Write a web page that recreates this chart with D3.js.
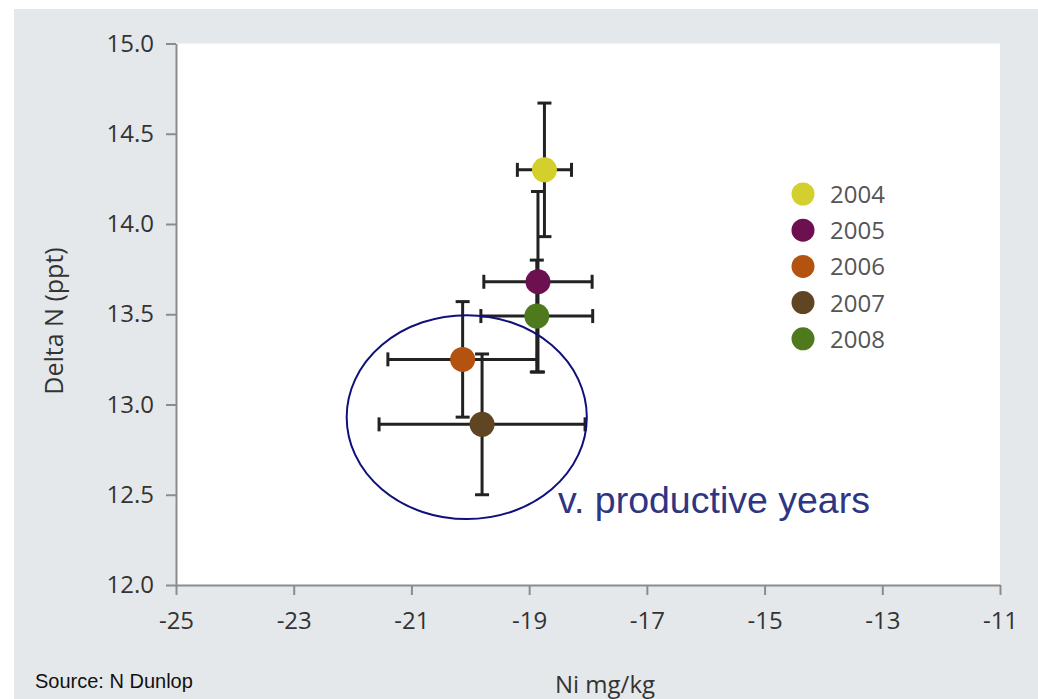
<!DOCTYPE html>
<html lang="en">
<head>
  <meta charset="UTF-8">
  <title>Delta N vs Ni by year</title>
  <script src="https://d3js.org/d3.v7.min.js"></script>
  <style>
    body { margin: 0; background: #fff; }
    .tick text { font-family: "Open Sans", sans-serif; fill: #333; }
    .domain, .tick line { stroke: #8c8c8c; stroke-width: 2px; }
  </style>
</head>
<body>
  <div id="chart"></div>
  <script>
    // values
    const years = ["2004", "2005", "2006", "2007", "2008"];
    const niMean = [-18.74, -18.85, -20.13, -19.80, -18.87];
    const niErr = [0.46, 0.92, 1.27, 1.75, 0.95];
    const deltaN = [14.30, 13.68, 13.25, 12.89, 13.49];
    const deltaNErr = [0.37, 0.50, 0.32, 0.39, 0.31];
    const colors = ["#d3cf2c", "#6c1050", "#b4520f", "#5f4521", "#4e7a1d"];
    const xTicks = [-25, -23, -21, -19, -17, -15, -13, -11];
    const yTicks = [12.0, 12.5, 13.0, 13.5, 14.0, 14.5, 15.0];
    // annotation ellipse (data units)
    const ring = { cx: -20.06, cy: 12.93, rx: 2.04, ry: 0.565 };

    const W = 1038, H = 699;
    const margin = { top: 43.5, right: 38, bottom: 114, left: 176 };

    const svg = d3.select("#chart").append("svg")
      .attr("width", W).attr("height", H);

    svg.append("rect").attr("x", 14).attr("y", 9)
      .attr("width", W - 14).attr("height", H - 9)
      .attr("fill", "#e5e8ea");

    const x = d3.scaleLinear().domain([-25, -11]).range([margin.left, W - margin.right]);
    const y = d3.scaleLinear().domain([12, 15]).range([H - margin.bottom, margin.top]);

    svg.append("rect")
      .attr("x", x(-25)).attr("y", y(15))
      .attr("width", x(-11) - x(-25)).attr("height", y(12) - y(15))
      .attr("fill", "#fff");

    // axes
    const gx = svg.append("g")
      .attr("transform", `translate(0,${y(12)})`)
      .call(d3.axisBottom(x).tickValues(xTicks).tickSize(10).tickSizeOuter(0).tickPadding(17).tickFormat(d => String(d)));
    gx.selectAll("text").attr("font-size", 24);

    const gy = svg.append("g")
      .attr("transform", `translate(${x(-25)},0)`)
      .call(d3.axisLeft(y).tickValues(yTicks).tickSize(10).tickSizeOuter(0).tickPadding(12).tickFormat(d3.format(".1f")));
    gy.selectAll("text").attr("font-size", 24);

    // axis titles
    svg.append("text")
      .attr("x", 605).attr("y", 693)
      .attr("text-anchor", "middle")
      .attr("font-family", "Open Sans, sans-serif")
      .attr("font-size", 24).attr("fill", "#333")
      .text("Ni mg/kg");

    svg.append("text")
      .attr("transform", "translate(63,321) rotate(-90)")
      .attr("text-anchor", "middle")
      .attr("font-family", "Open Sans, sans-serif")
      .attr("font-size", 25).attr("fill", "#333")
      .text("Delta N (ppt)");

    svg.append("text")
      .attr("x", 35).attr("y", 688)
      .attr("font-family", "Liberation Sans, Arial, sans-serif")
      .attr("font-size", 20).attr("fill", "#111")
      .text("Source: N Dunlop");

    // error bars
    const data = years.map((yr, i) => ({
      year: yr, x: niMean[i], xe: niErr[i], y: deltaN[i], ye: deltaNErr[i], color: colors[i]
    }));

    const cap = 7;
    const bars = svg.append("g")
      .attr("stroke", "#222").attr("stroke-width", 3).attr("fill", "none");

    data.forEach(d => {
      // vertical
      bars.append("line").attr("x1", x(d.x)).attr("x2", x(d.x))
        .attr("y1", y(d.y - d.ye)).attr("y2", y(d.y + d.ye));
      bars.append("line").attr("x1", x(d.x) - cap).attr("x2", x(d.x) + cap)
        .attr("y1", y(d.y + d.ye)).attr("y2", y(d.y + d.ye));
      bars.append("line").attr("x1", x(d.x) - cap).attr("x2", x(d.x) + cap)
        .attr("y1", y(d.y - d.ye)).attr("y2", y(d.y - d.ye));
      // horizontal
      bars.append("line").attr("x1", x(d.x - d.xe)).attr("x2", x(d.x + d.xe))
        .attr("y1", y(d.y)).attr("y2", y(d.y));
      bars.append("line").attr("x1", x(d.x - d.xe)).attr("x2", x(d.x - d.xe))
        .attr("y1", y(d.y) - cap).attr("y2", y(d.y) + cap);
      bars.append("line").attr("x1", x(d.x + d.xe)).attr("x2", x(d.x + d.xe))
        .attr("y1", y(d.y) - cap).attr("y2", y(d.y) + cap);
    });

    svg.selectAll(".pt")
      .data(data)
      .enter().append("circle")
      .attr("class", "pt")
      .attr("cx", d => x(d.x))
      .attr("cy", d => y(d.y))
      .attr("r", 12.5)
      .attr("fill", d => d.color);

    // legend
    const legend = svg.append("g")
      .selectAll("g")
      .data(data)
      .enter().append("g")
      .attr("transform", (d, i) => `translate(803,${194 + i * 36.2})`);

    legend.append("circle").attr("r", 11.5).attr("fill", d => d.color);
    legend.append("text")
      .attr("x", 27).attr("y", 9)
      .attr("font-family", "Open Sans, sans-serif")
      .attr("font-size", 24).attr("fill", "#555")
      .text(d => d.year);

    // annotation
    svg.append("ellipse")
      .attr("cx", x(ring.cx)).attr("cy", y(ring.cy))
      .attr("rx", x(ring.cx + ring.rx) - x(ring.cx))
      .attr("ry", y(ring.cy) - y(ring.cy + ring.ry))
      .attr("fill", "none").attr("stroke", "#10107a").attr("stroke-width", 2);

    svg.append("text")
      .attr("x", 558).attr("y", 513)
      .attr("font-family", "Liberation Sans, Arial, sans-serif")
      .attr("font-size", 37.5).attr("fill", "#2e3582")
      .text("v. productive years");
  </script>
</body>
</html>
